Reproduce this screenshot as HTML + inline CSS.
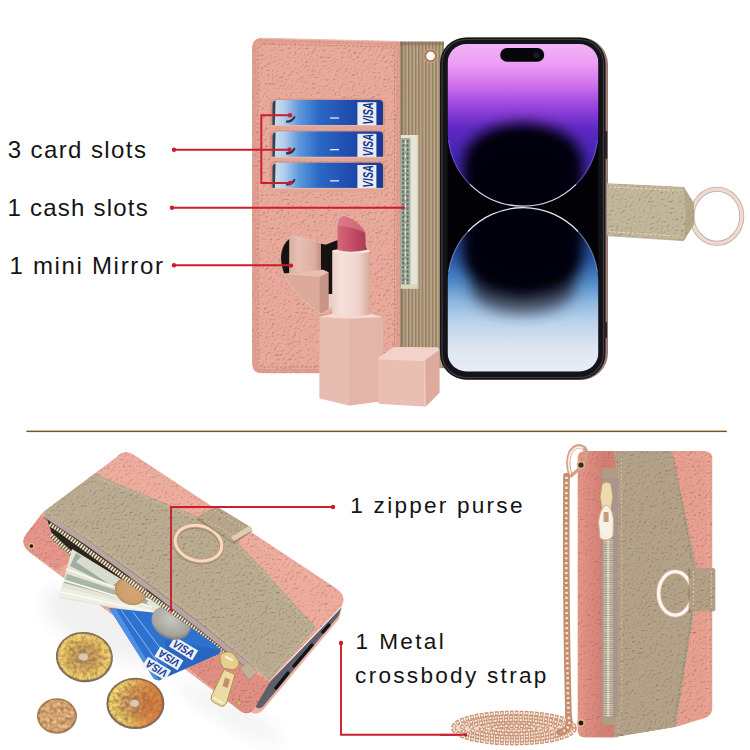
<!DOCTYPE html>
<html lang="en"><head><meta charset="utf-8"><title>Wallet case features</title>
<style>
html,body{margin:0;padding:0;background:#fff}
body{width:750px;height:750px;overflow:hidden;position:relative;font-family:"Liberation Sans",sans-serif}
svg{position:absolute;left:0;top:0;display:block}
.lb{position:absolute;white-space:nowrap;color:#141414}
</style></head><body>
<svg width="750" height="750" viewBox="0 0 750 750">
<defs>
<filter id="leather" x="0" y="0" width="100%" height="100%" color-interpolation-filters="sRGB">
  <feTurbulence type="fractalNoise" baseFrequency="0.45" numOctaves="2" seed="3" result="n"/>
  <feDiffuseLighting in="n" lighting-color="#ffffff" surfaceScale="0.85" diffuseConstant="1.165" result="l"><feDistantLight azimuth="235" elevation="62"/></feDiffuseLighting>
  <feComposite in="SourceGraphic" in2="l" operator="arithmetic" k1="1" k2="0" k3="0" k4="0" result="m"/>
  <feComposite in="m" in2="SourceGraphic" operator="in"/>
</filter>
<linearGradient id="scrTop" gradientUnits="userSpaceOnUse" x1="0" y1="44" x2="0" y2="207">
  <stop offset="0" stop-color="#f2b4f6"/>
  <stop offset="0.12" stop-color="#ec9ef4"/>
  <stop offset="0.25" stop-color="#cf72ea"/>
  <stop offset="0.38" stop-color="#9a45de"/>
  <stop offset="0.52" stop-color="#5e28c2"/>
  <stop offset="0.70" stop-color="#4424b4"/>
  <stop offset="1" stop-color="#5236ba"/>
</linearGradient>
<linearGradient id="scrBot" gradientUnits="userSpaceOnUse" x1="0" y1="207" x2="0" y2="372">
  <stop offset="0" stop-color="#15153f"/>
  <stop offset="0.12" stop-color="#20307a"/>
  <stop offset="0.30" stop-color="#2752a6"/>
  <stop offset="0.45" stop-color="#4f88c6"/>
  <stop offset="0.58" stop-color="#8fb9e0"/>
  <stop offset="0.70" stop-color="#bcd3ea"/>
  <stop offset="0.85" stop-color="#dce5f1"/>
  <stop offset="1" stop-color="#e9edf6"/>
</linearGradient>
<filter id="blurCore" x="-40%" y="-40%" width="180%" height="180%"><feGaussianBlur stdDeviation="7"/></filter>
<radialGradient id="darkTop" cx="0.5" cy="0.5" r="0.5">
  <stop offset="0" stop-color="#030108" stop-opacity="1"/>
  <stop offset="0.5" stop-color="#030108" stop-opacity="0.97"/>
  <stop offset="0.72" stop-color="#0a0420" stop-opacity="0.7"/>
  <stop offset="1" stop-color="#100830" stop-opacity="0"/>
</radialGradient>
<radialGradient id="darkBot" cx="0.5" cy="0.5" r="0.5">
  <stop offset="0" stop-color="#020208" stop-opacity="1"/>
  <stop offset="0.5" stop-color="#020208" stop-opacity="0.97"/>
  <stop offset="0.72" stop-color="#0a0a18" stop-opacity="0.7"/>
  <stop offset="1" stop-color="#202030" stop-opacity="0"/>
</radialGradient>
<linearGradient id="card" x1="0" y1="0" x2="1" y2="0">
  <stop offset="0" stop-color="#cfe0f0"/>
  <stop offset="0.1" stop-color="#b4d0ec"/>
  <stop offset="0.24" stop-color="#5f98dc"/>
  <stop offset="0.42" stop-color="#2a68c6"/>
  <stop offset="0.7" stop-color="#1f4cae"/>
  <stop offset="1" stop-color="#1a3894"/>
</linearGradient>
<linearGradient id="gold" x1="0" y1="0" x2="1" y2="1">
  <stop offset="0" stop-color="#f3dcc8"/>
  <stop offset="0.5" stop-color="#e2b79a"/>
  <stop offset="1" stop-color="#f6e6d8"/>
</linearGradient>
<radialGradient id="coinG" cx="0.5" cy="0.5" r="0.5">
  <stop offset="0" stop-color="#cdb590"/>
  <stop offset="0.18" stop-color="#b88f5e"/>
  <stop offset="0.5" stop-color="#c39a58"/>
  <stop offset="0.72" stop-color="#d6b25c"/>
  <stop offset="0.92" stop-color="#dcbc66"/>
  <stop offset="1" stop-color="#b7934a"/>
</radialGradient>
<linearGradient id="coinTint" x1="0" y1="0" x2="1" y2="0">
  <stop offset="0.3" stop-color="#c8582c" stop-opacity="0"/>
  <stop offset="0.75" stop-color="#c8582c" stop-opacity="0.55"/>
  <stop offset="1" stop-color="#b8482a" stop-opacity="0.6"/>
</linearGradient>
<filter id="blur8" x="-30%" y="-30%" width="160%" height="160%"><feGaussianBlur stdDeviation="9"/></filter>
<filter id="mottle" x="0" y="0" width="100%" height="100%" color-interpolation-filters="sRGB">
  <feTurbulence type="fractalNoise" baseFrequency="0.28" numOctaves="2" seed="11" result="n"/>
  <feColorMatrix in="n" type="matrix" values="1.8 0 0 0 -0.4  1.8 0 0 0 -0.4  1.8 0 0 0 -0.4  0 0 0 0 1" result="g"/>
  <feComposite in="SourceGraphic" in2="g" operator="arithmetic" k1="0.4" k2="0.8" k3="0" k4="0" result="m"/>
  <feComposite in="m" in2="SourceGraphic" operator="in"/>
</filter>
<radialGradient id="coinC" cx="0.5" cy="0.5" r="0.5">
  <stop offset="0" stop-color="#d3a476"/>
  <stop offset="0.8" stop-color="#cfa06e"/>
  <stop offset="1" stop-color="#b98a5c"/>
</radialGradient>
<radialGradient id="coinS" cx="0.45" cy="0.4" r="0.6">
  <stop offset="0" stop-color="#c8c6c0"/>
  <stop offset="0.8" stop-color="#a5a39c"/>
  <stop offset="1" stop-color="#807e78"/>
</radialGradient>
<linearGradient id="lipBody" x1="0" y1="0" x2="1" y2="0">
  <stop offset="0" stop-color="#e9bcae"/>
  <stop offset="0.5" stop-color="#efc6b9"/>
  <stop offset="1" stop-color="#e0ab9c"/>
</linearGradient>
<linearGradient id="lipTube" x1="0" y1="0" x2="1" y2="0">
  <stop offset="0" stop-color="#ecd0c8"/>
  <stop offset="0.25" stop-color="#f4e0da"/>
  <stop offset="0.7" stop-color="#efd3cb"/>
  <stop offset="1" stop-color="#d6a89c"/>
</linearGradient>
<linearGradient id="reflTube" x1="0" y1="0" x2="1" y2="0">
  <stop offset="0" stop-color="#d9b0a2"/>
  <stop offset="0.3" stop-color="#e6c0b3"/>
  <stop offset="0.8" stop-color="#dcae9f"/>
  <stop offset="1" stop-color="#bf8f80"/>
</linearGradient>
<linearGradient id="lipRed" x1="0" y1="0" x2="1" y2="0">
  <stop offset="0" stop-color="#d6687b"/>
  <stop offset="0.45" stop-color="#c9506a"/>
  <stop offset="1" stop-color="#a83c54"/>
</linearGradient>
<pattern id="ribs" width="3.4" height="10" patternUnits="userSpaceOnUse">
  <rect width="3.4" height="10" fill="#bea98b"/>
  <rect x="0" width="1.4" height="10" fill="#8e7a60"/>
  <rect x="1.4" width="0.6" height="10" fill="#a69174"/>
</pattern>
<linearGradient id="stripSh" gradientUnits="userSpaceOnUse" x1="577" y1="0" x2="604" y2="0">
  <stop offset="0" stop-color="#c8645e" stop-opacity="0.12"/>
  <stop offset="0.4" stop-color="#c8645e" stop-opacity="0.32"/>
  <stop offset="1" stop-color="#b85650" stop-opacity="0.45"/>
</linearGradient>
<linearGradient id="bandSh" x1="0" y1="0" x2="1" y2="0">
  <stop offset="0" stop-color="#5a4a38" stop-opacity="0.5"/>
  <stop offset="1" stop-color="#5a4a38" stop-opacity="0"/>
</linearGradient>
<clipPath id="scrClip"><rect x="447.5" y="44" width="151" height="327.5" rx="19" ry="19"/></clipPath>
</defs>

<rect x="398" y="41.6" width="46" height="326.6" fill="url(#ribs)"/>
<rect x="398" y="41.6" width="46" height="3.6" fill="#7d6a50" opacity="0.5"/>
<rect x="398" y="41.6" width="7" height="326.6" fill="url(#bandSh)"/>
<path d="M262 37.8 L400.4 41 L400.4 373.6 L262 373.6 Q252 373.6 252 363.6 L252 47.8 Q252 37.8 262 37.8 Z" fill="#e9a99b" filter="url(#leather)"/>
<path d="M263 40.4 L398 43.4 L398 371 L263 371 Q254.6 371 254.6 362.6 L254.6 48.8 Q254.6 40.4 263 40.4 Z" fill="none" stroke="#d59486" stroke-width="4" opacity="0.5"/>
<path d="M264 44 L394.6 47 L394.6 367 L264 367 Q258 367 258 361 L258 50 Q258 44 264 44 Z" fill="none" stroke="#c07a6c" stroke-width="1" stroke-dasharray="2.4 1.8" opacity="0.8"/>
<path d="M262 38.4 L400 41.6" fill="none" stroke="#efc1b4" stroke-width="1.1" opacity="0.8"/>
<rect x="400.8" y="135" width="17.6" height="153.5" fill="#e7e6d6"/>
<rect x="400.8" y="138" width="9.6" height="148" fill="#a3ad9f"/>
<path d="M403.2 140 V284 M407.6 140 V284" stroke="#56655c" stroke-width="2" stroke-dasharray="2.6 1.6" fill="none" opacity="0.85"/>
<path d="M405.4 140 V284" stroke="#dfe3d6" stroke-width="1.2" stroke-dasharray="4 3" fill="none"/>
<rect x="400.8" y="284.5" width="17.6" height="4" fill="#d9d6bd"/>
<rect x="417.6" y="135" width="1.2" height="153.5" fill="#b9a78a"/>
<rect x="270" y="98.4" width="115" height="30" rx="6" ry="6" fill="#c98677" opacity="0.5"/>
<path d="M277 100 H379 Q383 100 383 104 V125.4 H272.4 V104.6 Q272.4 100 277 100 Z" fill="url(#card)"/>
<path d="M272.4 125.4 V104.6 Q272.4 101 275.6 100.6 L274.8 125.4 Z" fill="#20242c" opacity="0.85"/>
<rect x="357.4" y="102.2" width="19" height="23.2" fill="#e9edf4"/>
<text x="0" y="0" transform="translate(372.8 124.6) rotate(-90)" font-family="Liberation Sans, sans-serif" font-weight="bold" font-style="italic" font-size="15.5" fill="#1b3588" textLength="22.4" lengthAdjust="spacingAndGlyphs">VISA</text>
<rect x="330" y="117.4" width="9" height="1.3" fill="#e4ecf7"/>
<path d="M286 120.5 q5 0.5 8 -4.5 l1.6 0.8 q-2.4 6.4 -9.4 6 z" fill="#1c2028" opacity="0.85"/>
<path d="M270.5 125.4 H384.5 Q385 128.6 381 128.8 H274 Q270 128.6 270.5 125.4 Z" fill="#e3a598"/>
<path d="M271 125.6 H384" stroke="#f0c4b8" stroke-width="0.9" fill="none" opacity="0.9"/>
<rect x="270" y="130.0" width="115" height="30" rx="6" ry="6" fill="#c98677" opacity="0.5"/>
<path d="M277 131.6 H379 Q383 131.6 383 135.6 V157.0 H272.4 V136.2 Q272.4 131.6 277 131.6 Z" fill="url(#card)"/>
<path d="M272.4 157.0 V136.2 Q272.4 132.6 275.6 132.2 L274.8 157.0 Z" fill="#20242c" opacity="0.85"/>
<rect x="357.4" y="133.79999999999998" width="19" height="23.2" fill="#e9edf4"/>
<text x="0" y="0" transform="translate(372.8 156.2) rotate(-90)" font-family="Liberation Sans, sans-serif" font-weight="bold" font-style="italic" font-size="15.5" fill="#1b3588" textLength="22.4" lengthAdjust="spacingAndGlyphs">VISA</text>
<rect x="330" y="149.0" width="9" height="1.3" fill="#e4ecf7"/>
<path d="M286 152.1 q5 0.5 8 -4.5 l1.6 0.8 q-2.4 6.4 -9.4 6 z" fill="#1c2028" opacity="0.85"/>
<path d="M270.5 157.0 H384.5 Q385 160.2 381 160.4 H274 Q270 160.2 270.5 157.0 Z" fill="#e3a598"/>
<path d="M271 157.2 H384" stroke="#f0c4b8" stroke-width="0.9" fill="none" opacity="0.9"/>
<rect x="270" y="161.20000000000002" width="115" height="30" rx="6" ry="6" fill="#c98677" opacity="0.5"/>
<path d="M277 162.8 H379 Q383 162.8 383 166.8 V188.20000000000002 H272.4 V167.4 Q272.4 162.8 277 162.8 Z" fill="url(#card)"/>
<path d="M272.4 188.20000000000002 V167.4 Q272.4 163.8 275.6 163.4 L274.8 188.20000000000002 Z" fill="#20242c" opacity="0.85"/>
<rect x="357.4" y="165.0" width="19" height="23.2" fill="#e9edf4"/>
<text x="0" y="0" transform="translate(372.8 187.4) rotate(-90)" font-family="Liberation Sans, sans-serif" font-weight="bold" font-style="italic" font-size="15.5" fill="#1b3588" textLength="22.4" lengthAdjust="spacingAndGlyphs">VISA</text>
<rect x="330" y="180.20000000000002" width="9" height="1.3" fill="#e4ecf7"/>
<path d="M286 183.3 q5 0.5 8 -4.5 l1.6 0.8 q-2.4 6.4 -9.4 6 z" fill="#1c2028" opacity="0.85"/>
<path d="M270.5 188.20000000000002 H384.5 Q385 191.4 381 191.60000000000002 H274 Q270 191.4 270.5 188.20000000000002 Z" fill="#e3a598"/>
<path d="M271 188.4 H384" stroke="#f0c4b8" stroke-width="0.9" fill="none" opacity="0.9"/>
<path d="M298.8 236.2 C289 234.5 280.6 244 280.4 258 C280.3 276 296 298 321 314 C346 301 369 282 369 260 C369 245 361 237 350 237 C340 237 332 242 326 244 C316 243 308 237.5 298.8 236.2 Z" fill="#15120f"/>
<clipPath id="heartClip"><path d="M298.8 236.2 C289 234.5 280.6 244 280.4 258 C280.3 276 296 298 321 314 C346 301 369 282 369 260 C369 245 361 237 350 237 C340 237 332 242 326 244 C316 243 308 237.5 298.8 236.2 Z"/></clipPath>
<g clip-path="url(#heartClip)">
<rect x="289.2" y="232" width="31.8" height="44" fill="url(#reflTube)"/>
<path d="M280 274 L322.8 269.8 L328.4 272.2 L328.4 320 L280 320 Z" fill="#dcaa9b"/>
<path d="M283 274 L322.8 269.8 L328.4 272.2 L319.6 277 Z" fill="#e8bfb2"/>
<path d="M319.6 277 L328.4 272.2 L328.4 320 L319.6 320 Z" fill="#c99486"/>
<rect x="328.4" y="294" width="6" height="26" fill="#f0cdc2"/>
</g>
<path d="M298.8 236.2 C289 234.5 280.6 244 280.4 258 C280.3 276 296 298 321 314 C346 301 369 282 369 260 C369 245 361 237 350 237 C340 237 332 242 326 244 C316 243 308 237.5 298.8 236.2 Z" fill="none" stroke="#f0c0b2" stroke-width="1.3" opacity="0.75"/>
<rect x="441" y="37.5" width="167" height="342.5" rx="27" ry="27" fill="#9a7a72"/>
<rect x="440" y="37.5" width="165.5" height="342" rx="26" ry="26" fill="#141418"/>
<rect x="442" y="39.5" width="161.5" height="338" rx="24" ry="24" fill="none" stroke="#3c3c44" stroke-width="1.2"/>
<g clip-path="url(#scrClip)">
<rect x="447" y="43" width="153" height="330" fill="#020206"/>
<clipPath id="topShape"><path d="M447.5 43 H598.5 V131 A75.5 75.5 0 0 1 447.5 131 Z"/></clipPath>
<g clip-path="url(#topShape)">
<rect x="447" y="43" width="153" height="165" fill="url(#scrTop)"/>
<path d="M464 215 L464 162 Q466 128 523 123 Q580 128 582 162 L582 215 Z" fill="#020108" filter="url(#blurCore)"/>
<path d="M472 215 L472 168 Q474 142 523 138 Q572 142 574 168 L574 215 Z" fill="#020108" filter="url(#blurCore)"/>
</g>
<path d="M470 184.4 A75.5 75.5 0 0 0 576 184.4" fill="none" stroke="#e9dcf8" stroke-width="1.3" opacity="0.95"/>
<path d="M448.5 140 A75.5 75.5 0 0 0 470 184.4" fill="none" stroke="#8d6adf" stroke-width="1.1" opacity="0.6"/>
<path d="M576 184.4 A75.5 75.5 0 0 0 597.5 140" fill="none" stroke="#8d6adf" stroke-width="1.1" opacity="0.6"/>
<clipPath id="botShape"><path d="M447.5 373 V283 A75.5 75.5 0 0 1 598.5 283 V373 Z"/></clipPath>
<g clip-path="url(#botShape)">
<rect x="447" y="207" width="153" height="166" fill="url(#scrBot)"/>
<ellipse cx="523" cy="288" rx="52" ry="26" fill="#2a2636" opacity="0.7" filter="url(#blurCore)"/>
<path d="M464 200 L464 258 Q466 292 523 297 Q580 292 582 258 L582 200 Z" fill="#020208" filter="url(#blurCore)"/>
<path d="M472 200 L472 252 Q474 278 523 282 Q572 278 574 252 L574 200 Z" fill="#020208" filter="url(#blurCore)"/>
</g>
<path d="M468 231.5 A75.5 75.5 0 0 1 578 231.5" fill="none" stroke="#eef2fa" stroke-width="1.3" opacity="0.95"/>
<path d="M448.5 272 A75.5 75.5 0 0 1 468 231.5" fill="none" stroke="#8fa6d6" stroke-width="1.1" opacity="0.6"/>
<path d="M578 231.5 A75.5 75.5 0 0 1 597.5 272" fill="none" stroke="#8fa6d6" stroke-width="1.1" opacity="0.6"/>
</g>
<rect x="500.2" y="48" width="44" height="13.8" rx="6.9" ry="6.9" fill="#07070b"/>
<circle cx="536.5" cy="55" r="3" fill="#1a1a28"/>
<rect x="605" y="131" width="2.2" height="28" rx="1" fill="#2a2428"/>
<rect x="604.5" y="322" width="2.5" height="16" rx="1" fill="#2a2428"/>
<ellipse cx="716.9" cy="216.2" rx="24.9" ry="27" fill="none" stroke="#c9a698" stroke-width="5"/>
<ellipse cx="716.9" cy="216.2" rx="24.9" ry="27" fill="none" stroke="#eadbd3" stroke-width="3.4"/>
<path d="M606.6 183 L683.9 186.7 L694 203.3 L694 224.7 L683.9 240.7 L606.6 235.6 Z" fill="#c3b799" filter="url(#leather)"/>
<path d="M683.9 186.7 L694 203.3 L694 224.7 L683.9 240.7 L686 214 Z" fill="#a89a7c" opacity="0.55"/>
<path d="M609 187 L682 190.6" stroke="#e6dcc6" stroke-width="1" stroke-dasharray="2.5 2" fill="none"/>
<path d="M609 231.6 L682 236.4" stroke="#e6dcc6" stroke-width="1" stroke-dasharray="2.5 2" fill="none"/>
<path d="M606.6 235.6 L683.9 240.7" stroke="#9a8c6e" stroke-width="1" fill="none" opacity="0.6"/>
<circle cx="430.6" cy="56" r="5.8" fill="#f6f1ea" stroke="#a87c58" stroke-width="2.8"/>
<circle cx="430.6" cy="56" r="6.9" fill="none" stroke="#d9b896" stroke-width="0.8"/>
<circle cx="430.6" cy="56" r="3.8" fill="#fbf9f6"/>
<path d="M319.4 317 L332 314 L371 314 L382.6 317 L382.6 401 L349 405.6 L319.4 398.6 Z" fill="#e8bdb1"/>
<path d="M349 318.6 L382.6 317 L382.6 401 L349 405.6 Z" fill="#e3b5a8"/>
<path d="M319.4 317 L332 314 L371 314 L382.6 317 L349 318.8 Z" fill="#f5dad1"/>
<path d="M332.2 251 Q351 246.4 370 251 L370 314.6 Q351 318.6 332.2 314.6 Z" fill="url(#lipTube)"/>
<ellipse cx="351.1" cy="251" rx="18.9" ry="2.6" fill="#f6e4de"/>
<path d="M337.4 250 L337.6 226 Q339 217.4 343.4 216.2 Q349 216.6 356 222 Q363 227.6 365.4 233 L365.7 250 Q351 253.4 337.4 250 Z" fill="url(#lipRed)"/>
<path d="M337.6 226 Q339 217.4 343.4 216.2 Q349 216.6 356 222 Q363 227.6 365.4 233 Q352 226 337.6 226Z" fill="#e48a97" opacity="0.55"/>
<path d="M378 359.6 Q378 358 379.6 357 L393 347.6 Q394 347 395.6 347 L436.6 347.6 Q439.4 348 439.4 351 L439.4 391.4 Q439.4 393 438 394.4 L427 405.6 Q425.6 406.8 423.6 406.6 L380.4 404 Q378 403.8 378 401.6 Z" fill="#e9bfb3"/>
<path d="M378 358.6 L394 347 L437.6 347.6 L439.4 350 L424.6 360.4 Z" fill="#f3d3c9"/>
<path d="M424.6 360.4 L439.4 350 L439.4 392.4 L425.4 406.6 Z" fill="#dcab9d"/>
<path d="M378.6 359 L424.6 360.6 L425.2 406" stroke="#f6ddd5" stroke-width="0.9" fill="none" opacity="0.8"/>
<path d="M174 149.7 H289" fill="none" stroke="#cb1e2b" stroke-width="1.9" stroke-linejoin="miter"/>
<circle cx="174" cy="149.7" r="2.2" fill="#cb1e2b"/>
<circle cx="289.5" cy="149.7" r="2.2" fill="#cb1e2b"/>
<path d="M290 115.3 H261.3 V183 H290" fill="none" stroke="#cb1e2b" stroke-width="1.9" stroke-linejoin="miter"/>
<circle cx="290" cy="115.3" r="2.2" fill="#cb1e2b"/>
<circle cx="290" cy="183" r="2.2" fill="#cb1e2b"/>
<path d="M172 207.8 H403" fill="none" stroke="#cb1e2b" stroke-width="1.9" stroke-linejoin="miter"/>
<circle cx="172" cy="207.8" r="2.2" fill="#cb1e2b"/>
<circle cx="403" cy="207.8" r="1.8" fill="#cb1e2b"/>
<path d="M174 265.3 H291" fill="none" stroke="#cb1e2b" stroke-width="1.9" stroke-linejoin="miter"/>
<circle cx="174" cy="265.3" r="2.2" fill="#cb1e2b"/>
<circle cx="291" cy="265.6" r="2.2" fill="#cb1e2b"/>
<rect x="26.4" y="430.6" width="700.4" height="1.5" fill="#7c5226"/>
<ellipse cx="112" cy="622" rx="70" ry="30" fill="#3a3a50" opacity="0.07" transform="rotate(22 105 618)" filter="url(#blur8)"/>
<ellipse cx="230" cy="712" rx="60" ry="12" fill="#3a3a50" opacity="0.06" transform="rotate(30 230 712)" filter="url(#blur8)"/>
<path d="M341 611 L339 619 L263 710 Q258 715 252 713 L250 700 Z" fill="#eab0a3"/>
<path d="M342 607 L338.4 616 L262.5 707 Q258 710 255 706 L268 684 Z" fill="#5e5f6a"/>
<path d="M329 625 L323 632 M312 645 L294 666 M288 673 L276 688" stroke="#121216" stroke-width="3.4" stroke-linecap="round" fill="none"/>
<path d="M117 456.5 Q124 449 133 454 L336 588 Q348 597 341.5 606.5 L269.5 681 L256 706 Q250 718 240 711 L30 553 Q19 544 26 534 L42 513 Z" fill="#eeac9d" filter="url(#leather)"/>
<path d="M121 457 L334 592" stroke="#f4c0b4" stroke-width="1" stroke-dasharray="2 2" fill="none" opacity="0.8"/>
<path d="M40.8 515.6 L26 534 Q19 543 29 551.5 L58 571 L76 556 L50 524 Z" fill="#e6958a" filter="url(#leather)"/>
<path d="M40 519 L27 536" stroke="#c9766c" stroke-width="0.9" stroke-dasharray="1.6 1.6" fill="none" opacity="0.8"/>
<circle cx="31.4" cy="546" r="2.6" fill="#2a1a10" stroke="#dcb686" stroke-width="1.5"/>
<path d="M46 516 L60 526 L150 590 L226 650 L214 644 L150 600 L110 575 L76 557 L52 534 Z" fill="#2b241f"/>
<path d="M51 535 L60 543.6 L75 557" stroke="#6a5a48" stroke-width="4.6" fill="none"/>
<path d="M51 535 L60 543.6 L75 557" stroke="#f3e9d0" stroke-width="4.2" stroke-dasharray="1.5 1.3" fill="none"/>
<path d="M72 549 L165 606 L160 613 L154 615 L59 598 Z" fill="#e4e5d6"/>
<path d="M76 553 L150 598 L146 604 L70 566 Z" fill="#9eae9f"/>
<path d="M82 556 L120 580 L112 586 L76 562 Z" fill="#d9ddd0"/>
<path d="M67 574 L140 598 L150 606 L64 583 Z" fill="#a9b6a6"/>
<path d="M63 588 L150 608 L154 614 L60 597 Z" fill="#eeeee2"/>
<path d="M66 569 L150 600 M63 580 L152 607 M60 592 L154 612" stroke="#fafaf2" stroke-width="1.6" fill="none"/>
<path d="M109 608 L158 613 L200 628 L221 650 L219 654 L159 680.5 L154 679 Z" fill="#2e72cf"/>
<path d="M121 610 L166 674 M133 612 L176 669" stroke="#8db9ee" stroke-width="1" fill="none"/>
<path d="M109 608 L154 679 L159 680.5 L116 609 Z" fill="#4f90e4"/>
<path d="M165 640 L221 650 L219 654 L168 676 Z" fill="#2458b4" opacity="0.5"/>
<g transform="translate(156.6 668.6) rotate(31)"><rect x="-13.5" y="-5.8" width="27" height="11.6" fill="#eef1f6"/><text transform="rotate(180)" x="0" y="3.9" text-anchor="middle" font-family="Liberation Sans, sans-serif" font-weight="bold" font-style="italic" font-size="11" fill="#1b3f9c" textLength="23" lengthAdjust="spacingAndGlyphs">VISA</text></g>
<g transform="translate(169 658.4) rotate(31)"><rect x="-13.5" y="-5.8" width="27" height="11.6" fill="#eef1f6"/><text transform="rotate(180)" x="0" y="3.9" text-anchor="middle" font-family="Liberation Sans, sans-serif" font-weight="bold" font-style="italic" font-size="11" fill="#1b3f9c" textLength="23" lengthAdjust="spacingAndGlyphs">VISA</text></g>
<g transform="translate(183.6 648.6) rotate(31)"><rect x="-13.5" y="-5.8" width="27" height="11.6" fill="#eef1f6"/><text transform="rotate(0)" x="0" y="3.9" text-anchor="middle" font-family="Liberation Sans, sans-serif" font-weight="bold" font-style="italic" font-size="11" fill="#1b3f9c" textLength="23" lengthAdjust="spacingAndGlyphs">VISA</text></g>
<ellipse cx="131" cy="591" rx="16.5" ry="13.5" fill="url(#coinC)" transform="rotate(25 131 591)"/>
<ellipse cx="171" cy="623" rx="20.5" ry="15.5" fill="url(#coinS)" transform="rotate(28 171 623)"/>
<path d="M188 668 L222 653 L270 682 L256 706 Q250 718 240 711 Z" fill="#e18f82" filter="url(#leather)"/>
<circle cx="239" cy="703" r="2.4" fill="#d9b27c" stroke="#a8804a" stroke-width="0.8"/>
<path d="M50 524 L60 530.5 L150 596 L214 641 L228 653" stroke="#5e4e3c" stroke-width="5" fill="none" opacity="0.9"/>
<path d="M50 524 L60 530.5 L150 596 L214 641 L228 653" stroke="#f3e9d0" stroke-width="4.6" stroke-dasharray="1.6 1.3" fill="none"/>
<path d="M45 515 L88 543.5 L150 588.5 L200 626.5 L246 664" stroke="#4a3c32" stroke-width="7" fill="none" opacity="0.55"/>
<path d="M45 515 L88 543.5 L150 588.5 L200 626.5 L246 664" stroke="#b6a6a2" stroke-width="5" fill="none"/>
<path d="M95 473 L120 484.5 L170 505 L200 517 L236 540 L316.5 627.5 L269.5 681 L249 663 L200 623 L150 585 L88 540.5 L43 512 Z" fill="#baab91" filter="url(#leather)"/>
<path d="M93 476 L200 520 L236 543 L312 628 L267 677 L248 660 L200 620 L150 582 L88 537.5 L48 512" stroke="#d6c8ae" stroke-width="0.9" stroke-dasharray="2 2" fill="none" opacity="0.9"/>
<path d="M240 668 L248 662 L257 672 L249 680 Z" fill="#c2b196" stroke="#9a8a70" stroke-width="0.6"/>
<ellipse cx="198.5" cy="544.4" rx="23.6" ry="17.4" transform="rotate(14 198.5 543.2)" fill="none" stroke="#7a6850" stroke-width="4.6" opacity="0.5"/>
<ellipse cx="198.5" cy="543.2" rx="23.6" ry="17.4" transform="rotate(14 198.5 543.2)" fill="none" stroke="#c99c78" stroke-width="5"/>
<ellipse cx="198.5" cy="543.2" rx="23.6" ry="17.4" transform="rotate(14 198.5 543.2)" fill="none" stroke="#f2dcc4" stroke-width="3"/>
<path d="M196 519 L214 509 L253 531 L234 544 Z" fill="#6e5c44" opacity="0.45"/>
<path d="M197 517 L214 507 Q216 506 218 507 L251 527 Q253 529 251 531 L234 541 Q232 542 230 541 Z" fill="#b8a68b" filter="url(#leather)"/>
<path d="M234 541 L251 531 Q253 529 251 527 L249 526 L231 537 Z" fill="#dccdb4"/>
<path d="M201 517 L233 536 M214 510 L246 529" stroke="#d8c9ae" stroke-width="0.9" stroke-dasharray="2 2" fill="none"/>
<path d="M220 655 Q227 649 234 654 L239 662 Q239 668 233 670 L223 668 Q219 662 220 655 Z" fill="#e6cf8e" stroke="#a88c4c" stroke-width="0.9"/>
<path d="M226 657 l6 3" stroke="#fbf4d6" stroke-width="2" stroke-linecap="round"/>
<path d="M224 669.5 L235 674.5 L226.5 703 Q224.5 707.5 220.5 706 L212.5 701.5 Q210 699.5 211.5 696 Z" fill="#ecdba2" stroke="#a88c4c" stroke-width="0.9"/>
<path d="M225 677.5 L230 679.5 L227.6 688 L222.6 686 Z" fill="#c08e6a"/>
<path d="M214 698 L223 703" stroke="#fbf4d6" stroke-width="1.6" stroke-linecap="round"/>
<g transform="rotate(8 84.4 657.1)">
<ellipse cx="84.4" cy="657.1" rx="28.6" ry="25.1" fill="#7f6c5a"/>
<ellipse cx="84.4" cy="656.8000000000001" rx="27.200000000000003" ry="23.6" fill="url(#coinG)" filter="url(#mottle)"/>
<ellipse cx="84.4" cy="656.8000000000001" rx="24.400000000000002" ry="21.1" fill="none" stroke="#ecd377" stroke-width="3.4" stroke-dasharray="1.5 1.5" opacity="0.75"/>
<ellipse cx="83.4" cy="657.1" rx="4.5760000000000005" ry="3.5140000000000007" fill="#ddd3c0" opacity="0.8"/>
</g>
<g transform="rotate(0 135.4 703.4)">
<ellipse cx="135.4" cy="703.4" rx="29" ry="25.7" fill="#7f6c5a"/>
<ellipse cx="135.4" cy="703.1" rx="27.6" ry="24.2" fill="url(#coinG)" filter="url(#mottle)"/>
<ellipse cx="135.4" cy="703.1" rx="24.8" ry="21.7" fill="none" stroke="#ecd377" stroke-width="3.4" stroke-dasharray="1.5 1.5" opacity="0.75"/>
<ellipse cx="135.4" cy="703.1" rx="27.6" ry="24.2" fill="url(#coinTint)"/>
<ellipse cx="134.4" cy="703.4" rx="4.64" ry="3.5980000000000003" fill="#ddd3c0" opacity="0.8"/>
</g>
<g transform="rotate(0 57 716)">
<ellipse cx="57" cy="716" rx="20" ry="17.8" fill="#a9815a"/>
<ellipse cx="57" cy="715.7" rx="19" ry="16.6" fill="url(#coinC)" filter="url(#mottle)"/>
<ellipse cx="57" cy="715.7" rx="17" ry="14.8" fill="none" stroke="#e2b887" stroke-width="1" opacity="0.6"/>
</g>
<path d="M333 507 H171 V610" fill="none" stroke="#cb1e2b" stroke-width="1.9" stroke-linejoin="miter"/>
<circle cx="333" cy="507" r="2.2" fill="#cb1e2b"/>
<circle cx="171" cy="610" r="1.7" fill="#cb1e2b"/>
<path d="M341 643 V734.8 H465" fill="none" stroke="#cb1e2b" stroke-width="1.9" stroke-linejoin="miter"/>
<circle cx="341" cy="643" r="2.2" fill="#cb1e2b"/>
<circle cx="465.5" cy="734.8" r="1.8" fill="#cb1e2b"/>
<path d="M585 451 L704 451 Q712.5 451 712.5 459 L712.5 708 Q712 716 704 718.5 L676 727 L613 737.5 L585 737.5 Q577.5 737.5 577.5 730 L577.5 459 Q577.5 451 585 451 Z" fill="#e7a090" filter="url(#leather)"/>
<path d="M582 456 H708 V712" stroke="#f2beb2" stroke-width="0.9" stroke-dasharray="2 2" fill="none" opacity="0.8"/>
<path d="M585 451 L613.5 451 L618 480 L618 737.5 L585 737.5 Q577.5 737.5 577.5 730 L577.5 459 Q577.5 451 585 451 Z" fill="url(#stripSh)"/>
<rect x="601.8" y="468" width="17" height="256" rx="1.5" fill="#a8968e"/>
<rect x="603.4" y="538" width="9.6" height="181" fill="#cfc2aa"/>
<path d="M608.2 538 V719" stroke="#7d7262" stroke-width="9.6" stroke-dasharray="0.9 1.3" opacity="0.6" fill="none"/>
<path d="M608.2 538 V719" stroke="#f6f0e0" stroke-width="2.2" opacity="0.55" fill="none"/>
<rect x="601.8" y="468" width="17" height="10" rx="1.5" fill="#b09c83"/>
<rect x="601.8" y="717" width="14" height="8" rx="1.5" fill="#b09c83"/>
<path d="M613.5 451 L672 451 L696.5 566 L694 612 L676 727 L613 737.5 L618 700 L618.5 480 Z" fill="#b4a288" filter="url(#leather)"/>
<path d="M621.5 458 L622 700 L618 732" stroke="#d6c8ae" stroke-width="0.9" stroke-dasharray="2 2" fill="none" opacity="0.8"/>
<path d="M674 458 L693 566 M692 614 L674 722" stroke="#7e6c55" stroke-width="0.9" stroke-dasharray="2 2" fill="none" opacity="0.7"/>
<path d="M602 484 Q606.5 480 611 484 L613 497 L611 509 L602 509 L600 497 Z" fill="#ecd9b0" stroke="#b8935e" stroke-width="0.9"/>
<path d="M606 505 Q612 506 613.5 520 L613 536 Q607 543 600 538 L598.5 522 Q600 508 606 505 Z" fill="#f6f1e6" stroke="#cfae82" stroke-width="1"/>
<rect x="603.6" y="512" width="5" height="10" rx="1" fill="#c79a7c"/>
<ellipse cx="675.2" cy="593.4" rx="16.6" ry="21.8" fill="none" stroke="#cfa893" stroke-width="5.2"/>
<ellipse cx="675.2" cy="593.4" rx="16.6" ry="21.8" fill="none" stroke="#fbf6f2" stroke-width="3.4"/>
<rect x="688.6" y="569" width="3" height="43.5" fill="#6e5c44" opacity="0.5"/>
<rect x="689.6" y="568" width="26" height="43.5" rx="2.5" fill="#b3a086" filter="url(#leather)"/>
<path d="M693.5 571 V608 M711.5 571 V608" stroke="#d6c8ae" stroke-width="0.9" stroke-dasharray="2 2" fill="none"/>
<circle cx="581" cy="465" r="3.4" fill="#3a2a20" stroke="#d9b090" stroke-width="1.6"/>
<circle cx="581" cy="723" r="3.4" fill="#2a1a14" stroke="#d9b090" stroke-width="1.8"/>
<path d="M570.5 475 Q566 462 570.5 452 Q576 443.5 583.5 447.5 Q588 451 585.5 459 L581 466" fill="none" stroke="#d49f84" stroke-width="4.2" stroke-linecap="round"/>
<path d="M570.5 474 Q566.5 462 571 452.5 Q576 445 582.5 448" fill="none" stroke="#fbeee6" stroke-width="1.8" stroke-linecap="round"/>
<path d="M571 476 L579.5 468.5" stroke="#d49f84" stroke-width="3.2" fill="none" stroke-linecap="round"/>
<circle cx="581" cy="465" r="3.4" fill="#3a2a20" stroke="#d9b090" stroke-width="1.6"/>
<path d="M566.5 476 Q565.5 600 568.5 716" fill="none" stroke="#c48e6e" stroke-width="6.6" stroke-linecap="round" stroke-dasharray="3.8 1.2"/>
<path d="M566.5 476 Q565.5 600 568.5 716" fill="none" stroke="#efd3c2" stroke-width="2.772" stroke-dasharray="2.2 2.8" stroke-dashoffset="-0.7"/>
<path d="M566.5 476 Q565.5 600 568.5 716" fill="none" stroke="#fff" stroke-width="1.32" stroke-dasharray="1.2 3.8" stroke-dashoffset="-1.2" opacity="0.85"/>
<ellipse cx="514" cy="728.4" rx="58" ry="14" fill="#f1dccf"/>
<ellipse cx="514" cy="728" rx="60.5" ry="15" fill="none" stroke="#c99475" stroke-width="4.8" stroke-dasharray="3.8 1.2"/>
<ellipse cx="514" cy="728" rx="60.5" ry="15" fill="none" stroke="#f1d8c8" stroke-width="2.1" stroke-dasharray="2.2 2.8" stroke-dashoffset="-0.7"/>
<ellipse cx="514" cy="728" rx="60.5" ry="15" fill="none" stroke="#fff" stroke-width="1.1" stroke-dasharray="1.2 3.8" stroke-dashoffset="-1.2" opacity="0.9"/>
<ellipse cx="514" cy="728.6" rx="52" ry="11.6" fill="none" stroke="#c99475" stroke-width="4.8" stroke-dasharray="3.8 1.2"/>
<ellipse cx="514" cy="728.6" rx="52" ry="11.6" fill="none" stroke="#f1d8c8" stroke-width="2.1" stroke-dasharray="2.2 2.8" stroke-dashoffset="-0.7"/>
<ellipse cx="514" cy="728.6" rx="52" ry="11.6" fill="none" stroke="#fff" stroke-width="1.1" stroke-dasharray="1.2 3.8" stroke-dashoffset="-1.2" opacity="0.9"/>
<ellipse cx="514" cy="728.4" rx="43" ry="8.4" fill="none" stroke="#c99475" stroke-width="4.8" stroke-dasharray="3.8 1.2"/>
<ellipse cx="514" cy="728.4" rx="43" ry="8.4" fill="none" stroke="#f1d8c8" stroke-width="2.1" stroke-dasharray="2.2 2.8" stroke-dashoffset="-0.7"/>
<ellipse cx="514" cy="728.4" rx="43" ry="8.4" fill="none" stroke="#fff" stroke-width="1.1" stroke-dasharray="1.2 3.8" stroke-dashoffset="-1.2" opacity="0.9"/>
<ellipse cx="514" cy="728.6" rx="33" ry="5.4" fill="none" stroke="#c99475" stroke-width="4.8" stroke-dasharray="3.8 1.2"/>
<ellipse cx="514" cy="728.6" rx="33" ry="5.4" fill="none" stroke="#f1d8c8" stroke-width="2.1" stroke-dasharray="2.2 2.8" stroke-dashoffset="-0.7"/>
<ellipse cx="514" cy="728.6" rx="33" ry="5.4" fill="none" stroke="#fff" stroke-width="1.1" stroke-dasharray="1.2 3.8" stroke-dashoffset="-1.2" opacity="0.9"/>
<ellipse cx="514" cy="728.2" rx="21" ry="2.6" fill="none" stroke="#c99475" stroke-width="4.8" stroke-dasharray="3.8 1.2"/>
<ellipse cx="514" cy="728.2" rx="21" ry="2.6" fill="none" stroke="#f1d8c8" stroke-width="2.1" stroke-dasharray="2.2 2.8" stroke-dashoffset="-0.7"/>
<ellipse cx="514" cy="728.2" rx="21" ry="2.6" fill="none" stroke="#fff" stroke-width="1.1" stroke-dasharray="1.2 3.8" stroke-dashoffset="-1.2" opacity="0.9"/>
<path d="M568.5 716 Q572 730 560 732" fill="none" stroke="#c48e6e" stroke-width="6.6" stroke-linecap="round" stroke-dasharray="3.8 1.2"/>
<path d="M568.5 716 Q572 730 560 732" fill="none" stroke="#efd3c2" stroke-width="2.772" stroke-dasharray="2.2 2.8" stroke-dashoffset="-0.7"/>
<path d="M568.5 716 Q572 730 560 732" fill="none" stroke="#fff" stroke-width="1.32" stroke-dasharray="1.2 3.8" stroke-dashoffset="-1.2" opacity="0.85"/>
<circle cx="465.5" cy="734.8" r="1.8" fill="#cb1e2b"/>
<path d="M440 734.8 H465" fill="none" stroke="#cb1e2b" stroke-width="1.9" stroke-linejoin="miter"/></svg>
<div class="lb" id="l0" style="left:7.7px;top:137.7px;font-size:24px;line-height:24px;letter-spacing:1.41px">3 card slots</div>
<div class="lb" id="l1" style="left:7.6px;top:196.0px;font-size:24px;line-height:24px;letter-spacing:1.21px">1 cash slots</div>
<div class="lb" id="l2" style="left:9.5px;top:253.6px;font-size:24px;line-height:24px;letter-spacing:1.68px">1 mini Mirror</div>
<div class="lb" id="l3" style="left:350.3px;top:495.3px;font-size:22.6px;line-height:22.6px;letter-spacing:2.23px">1 zipper purse</div>
<div class="lb" id="l4" style="left:355.6px;top:630.7px;font-size:22.6px;line-height:22.6px;letter-spacing:2.35px">1 Metal</div>
<div class="lb" id="l5" style="left:355.1px;top:665.0px;font-size:22.6px;line-height:22.6px;letter-spacing:2.27px">crossbody strap</div>
</body></html>
